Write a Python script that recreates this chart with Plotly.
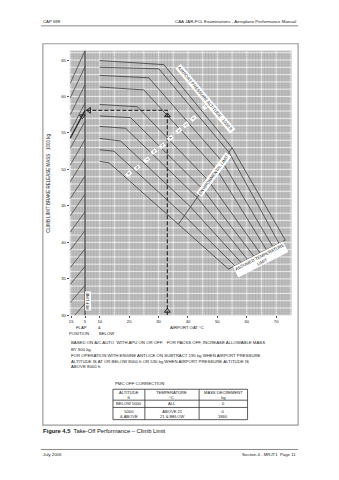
import plotly.graph_objects as go

W, H = 339, 480

# ---- chart data -------------------------------------------------------------
# Airport pressure altitude curves, vertices as (airport OAT degC, mass 1000 kg):
# start at 10 degC, flat-rating kink, crossing of the environmental limit,
# end on the assumed temperature limit.
alt_labels = ["0", "1", "2", "3", "4", "5", "6", "7", "8", "9"]
alt_start_T = [10, 10, 10, 10, 10, 10, 10, 10, 10, 10]
alt_start_M = [64.93, 64.0, 62.9, 61.3, 58.9, 57.33, 55.9, 54.25, 52.7, 51.1]
alt_kink_T = [31.8, 30.1, 26.7, 25.0, 22.8, 20.5, 18.8, 17.1, 14.85, 13.2]
alt_kink_M = [64.37, 63.8, 62.56, 60.9, 58.6, 57.1, 55.65, 53.9, 52.5, 50.9]
alt_env_T = [55.0, 53.95, 51.7, 49.8, 47.07, 45.08, 43.15, 40.89, 38.78, 36.73]
alt_env_M = [52.96, 52.35, 51.06, 49.99, 48.41, 47.27, 46.15, 44.86, 43.65, 42.48]
alt_end_T = [73.1, 70.96, 68.81, 66.67, 64.52, 62.38, 60.23, 58.09, 55.94, 53.8]
alt_end_M = [40.30, 39.86, 39.42, 38.99, 38.54, 38.11, 37.67, 37.23, 36.79, 36.35]

# small altitude tags along the curves
tag_T = [45.9, 41.9, 39.1, 36.8, 34.1, 31.2, 28.3, 25.8, 22.7, 19.7]
tag_M = [58.6, 57.0, 56.1, 55.3, 54.3, 53.3, 52.4, 51.3, 50.3, 49.4]

# environmental limit and assumed temperature limit
env_T = [36.73, 55.0]
env_M = [42.48, 52.96]
atl_T = [53.8, 73.1]
atl_M = [36.35, 40.30]

# flap correction guide lines: mass at the reference line (5) and at flap 15 edge
flap_ref_M = [31.6, 34.1, 36.7, 39.1, 41.6, 44.2, 46.6, 49.1, 51.6, 54.1, 56.6, 59.1, 61.6, 64.1, 66.3]
flap_edge_M = [29.3, 31.75, 34.25, 36.55, 38.95, 41.4, 43.65, 46.0, 48.3, 50.6, 52.9, 55.2, 57.5, 59.8, 61.8]
REF_T = 5
EDGE_T = 0

# worked example
ex_oat = 33
ex_mass = 58.1
ex_flap_mass = 54.3

# axis ticks
x_tick_vals = [0.3, 5, 10, 20, 30, 40, 50, 60, 70]
x_tick_text = ["15", "5", "10", "20", "30", "40", "50", "60", "70"]
y_tick_vals = [30, 35, 40, 45, 50, 55, 60, 65]

X_RANGE = [-0.17, 75.25]
Y_RANGE = [30, 66.28]

# PMC off correction table
pmc_header = ["ALTITUDE<br>ft", "TEMPERATURE<br>°C", "MASS DECREMENT<br>kg"]
pmc_row1 = ["BELOW 5000", "ALL", "0"]
pmc_row2 = ["5000<br>& ABOVE", "ABOVE 21<br>21 & BELOW", "0<br>1860"]

notes = [
    "BASED ON A/C AUTO  WITH APU ON OR OFF.   FOR PACKS OFF, INCREASE ALLOWABLE MASS",
    "BY 900 kg.",
    "FOR OPERATION WITH ENGINE ANTI-ICE ON SUBTRACT 190 kg WHEN AIRPORT PRESSURE",
    "ALTITUDE IS AT OR BELOW 8000 ft OR 530 kg WHEN AIRPORT PRESSURE ALTITUDE IS",
    "ABOVE 8000 ft.",
]

# ---- helpers ----------------------------------------------------------------
def px(x):
    return x / W


def py(y):
    return 1 - y / H


FONT = "Liberation Sans, Arial, sans-serif"
LINE = "#4a4a4a"
TXT = "#222222"


def note(x, y, text, size=4.3, xa="center", ya="middle", **kw):
    d = dict(x=px(x), y=py(y), xref="paper", yref="paper", text=text,
             showarrow=False, xanchor=xa, yanchor=ya,
             font=dict(size=size, color=kw.pop("color", TXT), family=FONT))
    d.update(kw)
    return d


def tag(x, y, text, size, angle, **kw):
    d = dict(x=x, y=y, xref="x", yref="y", text=text, showarrow=False,
             xanchor="center", yanchor="middle", textangle=angle,
             font=dict(size=size, color=TXT, family=FONT), bgcolor="white",
             borderpad=0.4)
    d.update(kw)
    return d


fig = go.Figure()

# altitude curves
for i in range(len(alt_start_M)):
    fig.add_trace(go.Scatter(
        x=[alt_start_T[i], alt_kink_T[i], alt_env_T[i], alt_end_T[i]],
        y=[alt_start_M[i], alt_kink_M[i], alt_env_M[i], alt_end_M[i]],
        mode="lines", line=dict(color=LINE, width=0.9),
        hoverinfo="skip", showlegend=False))

# environmental limit / assumed temperature limit
for xs, ys in ((env_T, env_M), (atl_T, atl_M)):
    fig.add_trace(go.Scatter(x=xs, y=ys, mode="lines",
                             line=dict(color=LINE, width=0.9),
                             hoverinfo="skip", showlegend=False))

# flap guide lines
for r, e in zip(flap_ref_M, flap_edge_M):
    fig.add_trace(go.Scatter(x=[EDGE_T, REF_T], y=[e, r], mode="lines",
                             line=dict(color=LINE, width=0.8),
                             hoverinfo="skip", showlegend=False))

# reference line
fig.add_trace(go.Scatter(x=[REF_T, REF_T], y=Y_RANGE, mode="lines",
                         line=dict(color="#444444", width=1.3),
                         hoverinfo="skip", showlegend=False))

# worked example path
fig.add_trace(go.Scatter(x=[ex_oat, ex_oat, REF_T], y=[Y_RANGE[0], ex_mass, ex_mass],
                         mode="lines", line=dict(color="#333333", width=1.3, dash="4px,2px"),
                         hoverinfo="skip", showlegend=False))
fig.add_trace(go.Scatter(x=[REF_T, EDGE_T], y=[ex_mass, ex_flap_mass],
                         mode="lines", line=dict(color="#2a2a2a", width=1.3),
                         hoverinfo="skip", showlegend=False))
fig.add_trace(go.Scatter(
    x=[ex_oat, ex_oat, 6.4, 4.1], y=[30.6, 57.4, ex_mass, 57.3], mode="markers",
    marker=dict(symbol=["triangle-up-open", "triangle-up-open", "triangle-left-open",
                        "triangle-down-open"],
                size=5, color="#222222", line=dict(width=1)),
    hoverinfo="skip", showlegend=False))

ann = []
# altitude tags
for t, m, s in zip(tag_T, tag_M, alt_labels):
    ann.append(tag(t, m, s, 3.6, 50, borderpad=0.3))

ann.append(tag(45.9, 59.6, "AIRPORT PRESSURE ALTITUDE   1000 ft", 4.3, 50))
ann.append(tag(48.6, 49.3, "ENVIRONMENTAL LIMIT", 4.2, -54))
ann.append(tag(64.6, 37.7, "ASSUMED TEMPERATURE<br>LIMIT", 4.3, -27))
ann.append(tag(6.1, 32.0, "REF LINE", 3.8, -90))

# axis captions
ann.append(note(48, 184, "CLIMB LIMIT BRAKE RELEASE MASS   1000 kg", 4.5, textangle=-90))
for xx, yy, s in [(80.5, 329.5, "FLAP"), (78, 335.2, "POSITION"), (99, 329.5, "&"),
                  (106, 335.2, "BELOW"), (187, 329.5, "AIRPORT OAT °C")]:
    ann.append(note(xx, yy, s, 4.2))

# notes
for k, s in enumerate(notes):
    ann.append(note(68, [345, 351.5, 357.6, 363.4, 369.3][k], s, 4.3, xa="left"))

# table
TX = [112.3, 144.3, 198.7, 247.3]
TY = [391.7, 402.7, 410.0, 422.3]
ann.append(note(112.3, 386, "PMC OFF CORRECTION", 4.3, xa="left"))
for r, row in enumerate([pmc_header, pmc_row1, pmc_row2]):
    for c, s in enumerate(row):
        ann.append(note((TX[c] + TX[c + 1]) / 2, (TY[r] + TY[r + 1]) / 2, s, 4.1))

# page header / footer / caption
ann += [
    note(40, 22, "CAP 698", 4.3, xa="left"),
    note(298, 22, "CAA JAR-FCL Examinations - Aeroplane Performance Manual", 4.4, xa="right"),
    note(40.5, 433.5, "<b>Figure 4.5</b>  Take-Off Performance – Climb Limit", 5.8,
         xa="left", color="#111111"),
    note(40, 457.3, "July 2006", 4.3, xa="left"),
    note(298, 457.3, "Section 4 - MRJT1  Page 11", 4.3, xa="right"),
]

shapes = []
# graph-paper grid: fine lines every 1 degC / 0.25 t, light lines every 5 degC / 1 t
for t in range(0, 76):
    major = t % 5 == 0
    shapes.append(dict(type="line", xref="x", yref="y", x0=t, x1=t,
                       y0=Y_RANGE[0], y1=Y_RANGE[1], layer="below",
                       line=dict(color="#f2f2f2" if major else "#a2a2a2",
                                 width=0.9 if major else 0.5)))
for k in range(0, 146):
    m = 30 + k * 0.25
    major = k % 4 == 0
    shapes.append(dict(type="line", xref="x", yref="y", x0=X_RANGE[0], x1=X_RANGE[1],
                       y0=m, y1=m, layer="below",
                       line=dict(color="#f2f2f2" if major else "#a8a8a8",
                                 width=0.8 if major else 0.45)))

shapes += [
    dict(type="line", xref="paper", yref="paper", x0=px(40), x1=px(298),
         y0=py(26), y1=py(26), line=dict(color="#8a8a8a", width=1)),
    dict(type="rect", xref="paper", yref="paper", x0=px(42), x1=px(298),
         y0=py(44), y1=py(427.7), line=dict(color="#9a9a9a", width=1.2)),
    dict(type="line", xref="paper", yref="paper", x0=px(40), x1=px(298),
         y0=py(452.3), y1=py(452.3), line=dict(color="#8a8a8a", width=1)),
    dict(type="rect", xref="paper", yref="paper", x0=px(TX[0]), x1=px(TX[3]),
         y0=py(TY[0]), y1=py(TY[3]), line=dict(color="#333333", width=0.8)),
]
for xv in TX[1:3]:
    shapes.append(dict(type="line", xref="paper", yref="paper", x0=px(xv), x1=px(xv),
                       y0=py(TY[0]), y1=py(TY[3]), line=dict(color="#333333", width=0.8)))
for yv in TY[1:3]:
    shapes.append(dict(type="line", xref="paper", yref="paper", x0=px(TX[0]), x1=px(TX[3]),
                       y0=py(yv), y1=py(yv), line=dict(color="#333333", width=0.8)))

XD = [px(69), px(291.5)]
YD = [py(317.3), py(51)]

fig.update_layout(
    width=W, height=H, margin=dict(l=0, r=0, t=0, b=0),
    paper_bgcolor="white", plot_bgcolor="#c4c4c4",
    annotations=ann, shapes=shapes, showlegend=False,
    xaxis=dict(domain=XD, range=X_RANGE, tickmode="array", tickvals=x_tick_vals,
               ticktext=x_tick_text, showgrid=False, zeroline=False,
               ticks="outside", ticklen=1.5, tickcolor="#555555", fixedrange=True,
               tickfont=dict(size=4.2, color=TXT, family=FONT)),
    yaxis=dict(domain=YD, range=Y_RANGE, tickmode="array", tickvals=y_tick_vals,
               showgrid=False, zeroline=False, ticks="outside", ticklen=2,
               tickcolor="#555555", fixedrange=True,
               tickfont=dict(size=4.3, color=TXT, family=FONT)),
)

fig.write_html("out.html")
